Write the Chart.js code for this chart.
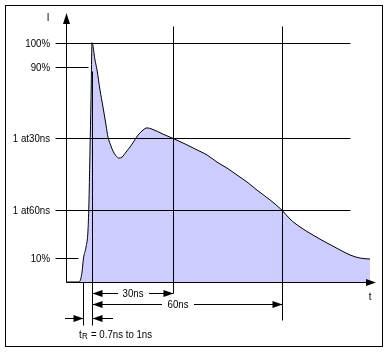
<!DOCTYPE html>
<html>
<head>
<meta charset="utf-8">
<script src="https://cdn.jsdelivr.net/npm/chart.js@4.4.1/dist/chart.umd.min.js"></script>
<style>
  html, body { margin: 0; padding: 0; background: #fff; }
  #wrap { width: 390px; height: 353px; position: relative; }
</style>
</head>
<body>
<div id="wrap"><canvas id="pulse"></canvas></div>
<script>
// Pulse current vs time (schematic, time in arbitrary units along the axis)
const timeX = [0, 12, 14, 16, 17.5, 20, 22, 23, 24, 25, 26,
  29, 31, 34, 37, 40, 42, 45, 47, 50, 53, 56, 60, 64, 68, 72, 77, 81, 86,
  97, 107, 119, 131, 141, 151, 161, 171, 181, 191, 204, 216, 224, 234, 247,
  261, 274, 284, 294, 304];
const currentPct = [0, 0, 0.4, 4.2, 10, 14.6, 21.7, 34.3, 55.2, 76.1, 100,
  92.8, 88.6, 80.2, 73.1, 65.6, 60.6, 56.8, 54.7, 52.7, 51.8, 52.2, 54.3, 56.4, 58.9, 61.4, 63.5, 64.4, 63.9,
  61.8, 60, 57.7, 55.2, 53.1, 50.1, 47.6, 44.7, 41.8, 38.4, 34.3, 30, 26.3, 23.0, 19.6,
  16.3, 13.4, 11.3, 10.0, 9.6];

// Reference levels on the I axis
const levelValues = [10, 30, 60, 90, 100];
const levelLabels = ['10%', '1 at60ns', '1 at30ns', '90%', '100%'];
const levelEnds = [12, 284, 284, 22, 284];

// Time markers: 10% crossing, peak, 30ns and 60ns after peak
const markerT10 = 17;
const markerPeak = 26;
const markerT30 = 107;
const markerT60 = 216;

const FONT = "'Liberation Sans', Arial, sans-serif";

const overlay = {
  id: 'overlay',
  afterDatasetsDraw(chart) {
    const { ctx, scales: { x, y } } = chart;
    const px = v => Math.round(x.getPixelForValue(v)) + 0.5;
    const py = v => Math.round(y.getPixelForValue(v)) + 0.5;
    const x0 = px(0), y0 = py(0);

    ctx.save();
    ctx.strokeStyle = '#000';
    ctx.fillStyle = '#000';
    ctx.lineWidth = 1;

    const line = (a, b, c, d) => {
      ctx.beginPath(); ctx.moveTo(a, b); ctx.lineTo(c, d); ctx.stroke();
    };
    const head = (hx, hy, dir) => {
      ctx.beginPath();
      ctx.moveTo(hx, hy);
      ctx.lineTo(hx - dir * 10, hy - 3.5);
      ctx.lineTo(hx - dir * 10, hy + 3.5);
      ctx.closePath();
      ctx.fill();
    };
    // narrow text, squeezed a little like the bitmap font of the original
    const text = (str, tx, ty, align, size) => {
      ctx.save();
      ctx.font = (size || 11) + 'px ' + FONT;
      ctx.textAlign = align;
      ctx.textBaseline = 'middle';
      ctx.translate(tx, ty);
      ctx.scale(0.88, 1);
      ctx.fillText(str, 0, 0);
      ctx.restore();
    };

    // frame
    ctx.strokeRect(5.5, 5.5, 377, 341);

    // level lines and labels
    levelValues.forEach((v, i) => {
      line(x0 - 11, py(v), px(levelEnds[i]), py(v));
      text(levelLabels[i], 50, py(v) + 0.5, 'right');
    });

    // vertical markers
    const xT10 = px(markerT10), xPk = px(markerPeak), xT30 = px(markerT30), xT60 = px(markerT60);
    line(xT30, 26.5, xT30, y0 + 11);
    line(xT60, 26.5, xT60, y0 + 38);
    line(xPk, py(88), xPk, y0 + 43);
    line(xT10, y0, xT10, y0 + 43);

    // axes with arrows
    line(x0, y0, x0, 16);
    ctx.beginPath();
    ctx.moveTo(x0, 13); ctx.lineTo(x0 - 3.5, 24); ctx.lineTo(x0 + 3.5, 24); ctx.closePath(); ctx.fill();
    line(x0, y0, 374, y0);
    head(376, y0, 1);

    text('I', 48, 18, 'center');
    text('t', 370, 297, 'center');

    // 30ns arrow
    const r30 = y0 + 11;
    line(xPk, r30, 118, r30); line(149, r30, xT30, r30);
    head(xPk, r30, -1); head(xT30, r30, 1);
    text('30ns', (xPk + xT30) / 2, r30, 'center');

    // 60ns arrow
    const r60 = y0 + 22;
    line(xPk, r60, 162, r60); line(194, r60, xT60, r60);
    head(xPk, r60, -1); head(xT60, r60, 1);
    text('60ns', 178, r60, 'center');

    // rise time arrows
    const rR = y0 + 36;
    line(65, rR, xT10, rR); head(xT10, rR, 1);
    line(xPk, rR, 113, rR); head(xPk, rR, -1);

    text('t', 79, y0 + 52, 'left');
    text('R', 82, y0 + 54, 'left', 9);
    text('= 0.7ns to 1ns', 91, y0 + 52, 'left');

    ctx.restore();
  }
};

new Chart(document.getElementById('pulse'), {
  type: 'line',
  data: {
    labels: timeX,
    datasets: [{
      data: timeX.map((t, i) => ({ x: t, y: currentPct[i] })),
      borderColor: '#000',
      borderWidth: 1,
      backgroundColor: '#ccccff',
      fill: 'origin',
      pointRadius: 0,
      cubicInterpolationMode: 'monotone'
    }]
  },
  options: {
    responsive: true,
    maintainAspectRatio: false,
    animation: false,
    layout: { padding: { left: 66, right: 15, top: 14, bottom: 71 } },
    plugins: { legend: { display: false }, tooltip: { enabled: false } },
    scales: {
      x: { type: 'linear', min: 0, max: 309, display: false },
      y: { type: 'linear', min: 0, max: 112, display: false }
    }
  },
  plugins: [overlay]
});
</script>
</body>
</html>
